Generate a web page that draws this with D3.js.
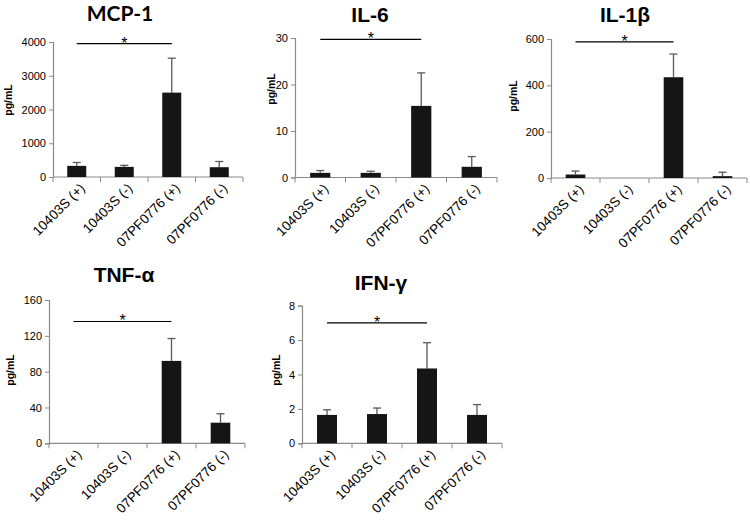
<!DOCTYPE html>
<html><head><meta charset="utf-8">
<script src="https://cdn.jsdelivr.net/npm/d3@7"></script>
<style>
html,body{margin:0;padding:0;background:#fff;}
svg{display:block;}
</style></head>
<body>
<svg id="chart" width="750" height="526"></svg>
<script>
// ---- data ----
const categories = ["10403S (+)", "10403S (-)", "07PF0776 (+)", "07PF0776 (-)"];
const titles = ["MCP-1", "IL-6", "IL-1β", "TNF-α", "IFN-γ"];
const yLabel = "pg/mL";

const mcp1Values = [330, 300, 2500, 290];
const mcp1Errors = [100, 45, 1020, 170];
const il6Values = [1.0, 1.0, 15.4, 2.3];
const il6Errors = [0.5, 0.35, 7.1, 2.2];
const il1bValues = [15, 0, 435, 8];
const il1bErrors = [15, 0, 100, 17];
const tnfValues = [0, 0, 92, 23];
const tnfErrors = [0, 0, 25, 10];
const ifnValues = [1.65, 1.7, 4.35, 1.65];
const ifnErrors = [0.3, 0.35, 1.5, 0.6];

const mcp1Ticks = [0, 1000, 2000, 3000, 4000];
const il6Ticks = [0, 10, 20, 30];
const il1bTicks = [0, 200, 400, 600];
const tnfTicks = [0, 40, 80, 120, 160];
const ifnTicks = [0, 2, 4, 6, 8];

const sigLevels = [3950, 29.7, 588, 136, 7.0];   // height of the "*" bracket
const sigLabel = "*";

// ---- layout ----
const ARIAL = "'Liberation Sans', Arial, sans-serif";
const panels = [
  {title: titles[0], values: mcp1Values, errors: mcp1Errors, ticks: mcp1Ticks, sig: sigLevels[0],
   x0: 53, x1: 243, y0: 177, y1: 42, tx: 120, ty: 21, titleFont: "Lato, sans-serif", lx: 12, ly: 100},
  {title: titles[1], values: il6Values, errors: il6Errors, ticks: il6Ticks, sig: sigLevels[1],
   x0: 295, x1: 497, y0: 177.5, y1: 38, tx: 370, ty: 22, titleFont: ARIAL, lx: 275, ly: 89},
  {title: titles[2], values: il1bValues, errors: il1bErrors, ticks: il1bTicks, sig: sigLevels[2],
   x0: 551, x1: 747, y0: 178, y1: 39, tx: 625, ty: 22, titleFont: ARIAL, lx: 517, ly: 96},
  {title: titles[3], values: tnfValues, errors: tnfErrors, ticks: tnfTicks, sig: sigLevels[3],
   x0: 49, x1: 245, y0: 443.3, y1: 300, tx: 124, ty: 282, titleFont: ARIAL, lx: 14, ly: 370},
  {title: titles[4], values: ifnValues, errors: ifnErrors, ticks: ifnTicks, sig: sigLevels[4],
   x0: 302, x1: 502, y0: 443.3, y1: 305.7, tx: 381, ty: 290, titleFont: ARIAL, lx: 280, ly: 370}
];

const svg = d3.select("#chart");
const axisColor = "#8a8a8a";

panels.forEach(p => {
  const g = svg.append("g");
  const x = d3.scaleBand().domain(categories).range([p.x0, p.x1]).paddingInner(0).paddingOuter(0);
  const y = d3.scaleLinear().domain([p.ticks[0], p.ticks[p.ticks.length - 1]]).range([p.y0, p.y1]);

  // title
  g.append("text").attr("x", p.tx).attr("y", p.ty).attr("text-anchor", "middle")
    .style("font-family", p.titleFont).attr("font-weight", "bold").attr("font-size", 21)
    .attr("fill", "#000").text(p.title);

  // y axis
  const ya = g.append("g").attr("transform", `translate(${p.x0},0)`)
    .call(d3.axisLeft(y).tickValues(p.ticks).tickSize(4).tickPadding(3).tickFormat(d3.format("d")));
  ya.select(".domain").attr("stroke", axisColor).attr("stroke-width", 1.2);
  ya.selectAll(".tick line").attr("stroke", axisColor);
  ya.selectAll(".tick text").style("font-family", ARIAL).attr("font-size", 11).attr("fill", "#000");

  // x axis (ticks between categories)
  const boundaries = d3.range(categories.length + 1).map(i => p.x0 + i * x.bandwidth());
  g.append("line").attr("x1", p.x0).attr("x2", p.x1).attr("y1", p.y0).attr("y2", p.y0)
    .attr("stroke", axisColor).attr("stroke-width", 1.2);
  g.selectAll(".xt").data(boundaries).join("line")
    .attr("x1", d => d).attr("x2", d => d).attr("y1", p.y0).attr("y2", p.y0 + 5)
    .attr("stroke", axisColor);

  // x labels
  g.selectAll(".xl").data(categories).join("text")
    .attr("transform", d => `translate(${x(d) + x.bandwidth() / 2 + 9},${p.y0 + 12}) rotate(-45)`)
    .attr("text-anchor", "end")
    .style("font-family", ARIAL).attr("font-size", 13.5).attr("fill", "#000")
    .text(d => d);

  // y label
  g.append("text").attr("transform", `translate(${p.lx},${p.ly}) rotate(-90)`)
    .attr("text-anchor", "middle").style("font-family", ARIAL)
    .attr("font-weight", "bold").attr("font-size", 10.5).attr("fill", "#000").text(yLabel);

  const bw = x.bandwidth() * 0.4;
  const data = categories.map((c, i) => ({c, v: p.values[i], e: p.errors[i]}));

  // error bars (behind the bars)
  const eb = data.filter(d => d.e > 0);
  g.selectAll(".ev").data(eb).join("line")
    .attr("x1", d => x(d.c) + x.bandwidth() / 2).attr("x2", d => x(d.c) + x.bandwidth() / 2)
    .attr("y1", d => y(d.v)).attr("y2", d => y(d.v + d.e))
    .attr("stroke", "#5a5a5a").attr("stroke-width", 1.3);
  g.selectAll(".ec").data(eb).join("line")
    .attr("x1", d => x(d.c) + x.bandwidth() / 2 - 4).attr("x2", d => x(d.c) + x.bandwidth() / 2 + 4)
    .attr("y1", d => y(d.v + d.e)).attr("y2", d => y(d.v + d.e))
    .attr("stroke", "#5a5a5a").attr("stroke-width", 1.3);

  // bars
  g.selectAll(".bar").data(data.filter(d => d.v > 0)).join("rect")
    .attr("x", d => x(d.c) + (x.bandwidth() - bw) / 2)
    .attr("width", bw)
    .attr("y", d => y(d.v))
    .attr("height", d => p.y0 - y(d.v))
    .attr("fill", "#151515");

  // significance bracket between category 1 and 3
  const sx1 = x(categories[0]) + x.bandwidth() / 2;
  const sx2 = x(categories[2]) + x.bandwidth() / 2;
  g.append("line").attr("x1", sx1).attr("x2", sx2).attr("y1", y(p.sig)).attr("y2", y(p.sig))
    .attr("stroke", "#000").attr("stroke-width", 1.2);
  g.append("text").attr("x", (sx1 + sx2) / 2).attr("y", y(p.sig) + 5)
    .attr("text-anchor", "middle").style("font-family", ARIAL)
    .attr("font-size", 16).attr("fill", "#000").text(sigLabel);
});
</script>
</body></html>
